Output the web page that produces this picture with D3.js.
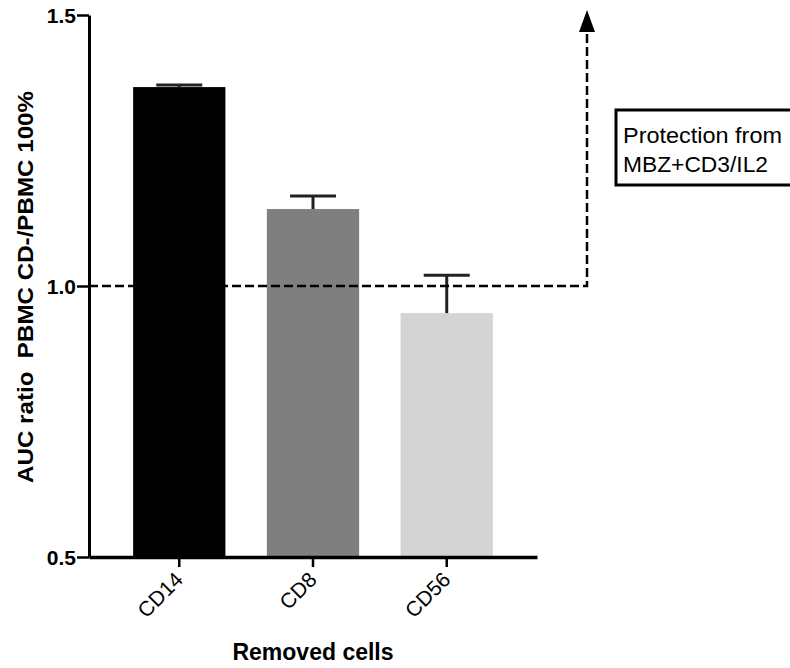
<!DOCTYPE html>
<html>
<head>
<meta charset="UTF-8">
<script src="https://d3js.org/d3.v7.min.js"></script>
<style>
  body { margin: 0; background: #fff; font-family: "Liberation Sans", Arial, sans-serif; }
</style>
</head>
<body>
<div id="chart"></div>
<script>
const categories = ["CD14", "CD8", "CD56"];
const values = [1.367, 1.142, 0.950];
const errors = [0.004, 0.024, 0.070];
const barColors = ["#000000", "#7f7f7f", "#d4d4d4"];
const yTicks = [0.5, 1.0, 1.5];
const refValue = 1.0;
const boxLines = ["Protection from", "MBZ+CD3/IL2"];

const W = 790, H = 668;
const x0 = 89, x1 = 537, yTop = 15, yBot = 557;
const font = "Liberation Sans, Arial, sans-serif";

const svg = d3.select("#chart").append("svg")
  .attr("width", W).attr("height", H);

const x = d3.scaleBand()
  .domain(categories)
  .range([x0, x1])
  .paddingInner(0.31)
  .paddingOuter(0.33);

const y = d3.scaleLinear()
  .domain([0.5, 1.5])
  .range([yBot, yTop]);

// bars
svg.selectAll(".bar")
  .data(categories)
  .enter().append("rect")
  .attr("x", d => x(d))
  .attr("y", (d, i) => y(values[i]))
  .attr("width", x.bandwidth())
  .attr("height", (d, i) => y(0.5) - y(values[i]))
  .attr("fill", (d, i) => barColors[i]);

// error bars (upper only)
const eb = svg.selectAll(".err").data(categories).enter().append("g");
eb.append("line")
  .attr("x1", d => x(d) + x.bandwidth() / 2)
  .attr("x2", d => x(d) + x.bandwidth() / 2)
  .attr("y1", (d, i) => y(values[i]))
  .attr("y2", (d, i) => y(values[i] + errors[i]))
  .attr("stroke", "#222").attr("stroke-width", 3);
eb.append("line")
  .attr("x1", d => x(d) + x.bandwidth() / 2 - 23)
  .attr("x2", d => x(d) + x.bandwidth() / 2 + 23)
  .attr("y1", (d, i) => y(values[i] + errors[i]))
  .attr("y2", (d, i) => y(values[i] + errors[i]))
  .attr("stroke", "#222").attr("stroke-width", 3);

// dashed reference line and arrow
const arrowX = 587;
svg.append("path")
  .attr("d", `M${x0},${y(refValue)} H${arrowX} V${yTop + 16}`)
  .attr("fill", "none")
  .attr("stroke", "#000")
  .attr("stroke-width", 2.5)
  .attr("stroke-dasharray", "9,4");

svg.append("path")
  .attr("d", `M${arrowX},${yTop - 5} L${arrowX - 8},${yTop + 17} L${arrowX + 8},${yTop + 17} Z`)
  .attr("fill", "#000");

// axes
const yAxis = d3.axisLeft(y).tickValues(yTicks).tickFormat(d3.format(".1f")).tickSize(12).tickSizeOuter(0);
const gy = svg.append("g").attr("transform", `translate(${x0},0)`).call(yAxis);
gy.select(".domain").attr("stroke-width", 3);
gy.selectAll(".tick line").attr("stroke-width", 2.5);
gy.selectAll(".tick text").attr("font-size", 21).attr("font-weight", "bold")
  .attr("font-family", font).attr("x", -13).attr("dy", "0.36em");

const xAxis = d3.axisBottom(x).tickSize(10).tickSizeOuter(0);
const gx = svg.append("g").attr("transform", `translate(0,${yBot})`).call(xAxis);
gx.select(".domain").attr("stroke-width", 3.5);
gx.selectAll(".tick line").attr("stroke-width", 2.5);
gx.selectAll(".tick text")
  .attr("font-size", 21)
  .attr("font-family", font)
  .style("text-anchor", "end")
  .attr("y", 0).attr("dy", 0)
  .attr("transform", "translate(5,24) rotate(-45)");

// axis titles
svg.append("text")
  .attr("transform", `translate(33,${(yTop + yBot) / 2 + 1}) rotate(-90)`)
  .attr("text-anchor", "middle")
  .attr("font-size", 22).attr("font-weight", "bold")
  .attr("textLength", 392).attr("lengthAdjust", "spacingAndGlyphs")
  .style("white-space", "pre")
  .text("AUC ratio  PBMC CD-/PBMC 100%");

svg.append("text")
  .attr("x", 313).attr("y", 660)
  .attr("text-anchor", "middle")
  .attr("font-size", 23).attr("font-weight", "bold")
  .text("Removed cells");

// annotation box
const box = svg.append("g").attr("transform", "translate(616,110)");
box.append("rect")
  .attr("width", 180).attr("height", 75)
  .attr("fill", "#fff").attr("stroke", "#000").attr("stroke-width", 3);
box.selectAll("text").data(boxLines).enter().append("text")
  .attr("x", 7).attr("y", (d, i) => 33 + i * 29)
  .attr("font-size", 22)
  .attr("font-family", font)
  .attr("textLength", (d, i) => i === 0 ? 159 : 145)
  .attr("lengthAdjust", "spacingAndGlyphs")
  .text(d => d);
</script>
</body>
</html>
